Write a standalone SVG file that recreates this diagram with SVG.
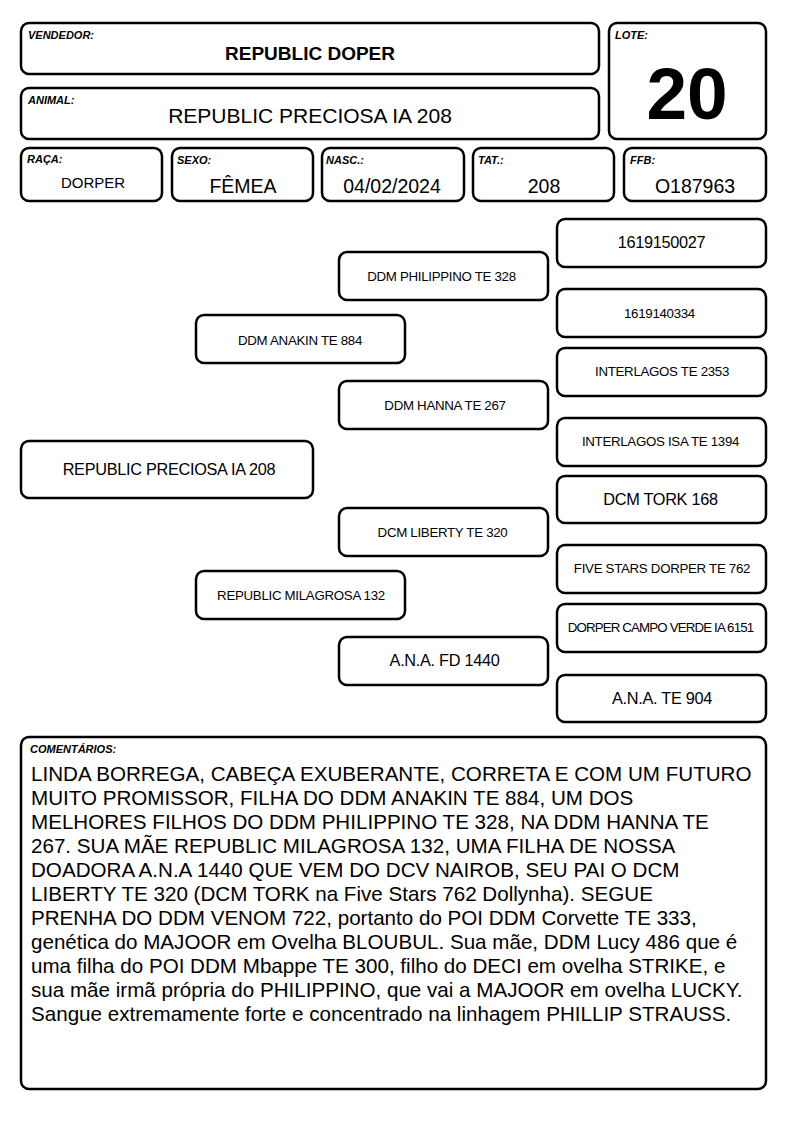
<svg xmlns="http://www.w3.org/2000/svg" width="794" height="1123" viewBox="0 0 794 1123">
<style>
.b{fill:#fff;stroke:#000;stroke-width:2.5}
text{font-family:"Liberation Sans",Arial,sans-serif;fill:#000}
.lbl{font-size:11px;font-weight:bold;font-style:italic}
.c{text-anchor:middle}
.s{font-size:13.3px;letter-spacing:-0.3px}
.m{font-size:16.3px;letter-spacing:-0.3px}
.v{font-size:19.5px}
.cm{font-size:20.6px}
</style>
<rect width="794" height="1123" fill="#fff"/>
<g id="vendedor"><rect class="b" x="21" y="23" width="578" height="51" rx="8"/><text class="lbl" x="28" y="39">VENDEDOR:</text><text class="c" x="310" y="60" font-size="19" font-weight="bold">REPUBLIC DOPER</text></g>
<g id="animal"><rect class="b" x="21" y="88" width="578" height="51" rx="8"/><text class="lbl" x="28" y="104">ANIMAL:</text><text class="c" x="310" y="123" font-size="21">REPUBLIC PRECIOSA IA 208</text></g>
<g id="lote"><rect class="b" x="609" y="23" width="157" height="116" rx="8"/><text class="lbl" x="615" y="39">LOTE:</text><text class="c" x="687" y="119" font-size="73" font-weight="bold">20</text></g>
<g id="raca"><rect class="b" x="21" y="148" width="141" height="53" rx="8"/><text class="lbl" x="27" y="163">RAÇA:</text><text class="c" x="93" y="188" font-size="15">DORPER</text></g>
<g id="sexo"><rect class="b" x="172" y="148" width="141" height="53" rx="8"/><text class="lbl" x="177" y="164">SEXO:</text><text class="c v" x="243" y="193">FÊMEA</text></g>
<g id="nasc"><rect class="b" x="322" y="148" width="142" height="53" rx="8"/><text class="lbl" x="326" y="164">NASC.:</text><text class="c v" x="392" y="193">04/02/2024</text></g>
<g id="tat"><rect class="b" x="473" y="148" width="141" height="53" rx="8"/><text class="lbl" x="478" y="164">TAT.:</text><text class="c v" x="544" y="193">208</text></g>
<g id="ffb"><rect class="b" x="624" y="148" width="142" height="53" rx="8"/><text class="lbl" x="630" y="164">FFB:</text><text class="c v" x="695" y="193">O187963</text></g>
<g id="connectors"></g>
<g id="n-1619150027"><rect class="b" x="557" y="219" width="209" height="48" rx="8"/><text class="c m" x="661.5" y="248">1619150027</text></g>
<g id="n-1619140334"><rect class="b" x="557" y="289" width="209" height="48" rx="8"/><text class="c s" x="659.5" y="318">1619140334</text></g>
<g id="n-interlagos2353"><rect class="b" x="557" y="348" width="209" height="48" rx="8"/><text class="c s" x="662" y="376">INTERLAGOS TE 2353</text></g>
<g id="n-interlagos1394"><rect class="b" x="557" y="418" width="209" height="48" rx="8"/><text class="c s" x="660.5" y="446">INTERLAGOS ISA TE 1394</text></g>
<g id="n-tork"><rect class="b" x="557" y="476" width="209" height="47" rx="8"/><text class="c m" x="660.5" y="505">DCM TORK 168</text></g>
<g id="n-fivestars"><rect class="b" x="557" y="545" width="209" height="48" rx="8"/><text class="c s" x="662" y="573">FIVE STARS DORPER TE 762</text></g>
<g id="n-campoverde"><rect class="b" x="557" y="604" width="209" height="48" rx="8"/><text class="c s" x="660.5" y="632" style="letter-spacing:-0.85px">DORPER CAMPO VERDE IA 6151</text></g>
<g id="n-ana904"><rect class="b" x="557" y="675" width="209" height="47" rx="8"/><text class="c m" x="662" y="704">A.N.A. TE 904</text></g>
<g id="n-philippino"><rect class="b" x="339" y="252" width="209" height="48" rx="8"/><text class="c s" x="441.5" y="281">DDM PHILIPPINO TE 328</text></g>
<g id="n-hanna"><rect class="b" x="339" y="381" width="209" height="48" rx="8"/><text class="c s" x="445" y="410">DDM HANNA TE 267</text></g>
<g id="n-liberty"><rect class="b" x="339" y="508" width="209" height="48" rx="8"/><text class="c s" x="442.5" y="537">DCM LIBERTY TE 320</text></g>
<g id="n-ana1440"><rect class="b" x="339" y="637" width="209" height="48" rx="8"/><text class="c m" x="444.5" y="666">A.N.A. FD 1440</text></g>
<g id="n-anakin"><rect class="b" x="196" y="315" width="209" height="48" rx="8"/><text class="c s" x="300" y="345">DDM ANAKIN TE 884</text></g>
<g id="n-milagrosa"><rect class="b" x="196" y="571" width="209" height="48" rx="8"/><text class="c s" x="301" y="600">REPUBLIC MILAGROSA 132</text></g>
<g id="n-preciosa"><rect class="b" x="21" y="441" width="292" height="57" rx="8"/><text class="c m" x="169" y="475">REPUBLIC PRECIOSA IA 208</text></g>
<g id="comentarios"><rect class="b" x="21" y="737" width="745" height="352" rx="8"/><text class="lbl" x="30" y="753">COMENTÁRIOS:</text>
<text class="cm" x="31"><tspan x="31" y="781">LINDA BORREGA, CABEÇA EXUBERANTE, CORRETA E COM UM FUTURO</tspan><tspan x="31" y="805">MUITO PROMISSOR, FILHA DO DDM ANAKIN TE 884, UM DOS</tspan><tspan x="31" y="829">MELHORES FILHOS DO DDM PHILIPPINO TE 328, NA DDM HANNA TE</tspan><tspan x="31" y="853">267. SUA MÃE REPUBLIC MILAGROSA 132, UMA FILHA DE NOSSA</tspan><tspan x="31" y="877">DOADORA A.N.A 1440 QUE VEM DO DCV NAIROB, SEU PAI O DCM</tspan><tspan x="31" y="901">LIBERTY TE 320 (DCM TORK na Five Stars 762 Dollynha). SEGUE</tspan><tspan x="31" y="925">PRENHA DO DDM VENOM 722, portanto do POI DDM Corvette TE 333,</tspan><tspan x="31" y="949">genética do MAJOOR em Ovelha BLOUBUL. Sua mãe, DDM Lucy 486 que é</tspan><tspan x="31" y="973">uma filha do POI DDM Mbappe TE 300, filho do DECI em ovelha STRIKE, e</tspan><tspan x="31" y="997">sua mãe irmã própria do PHILIPPINO, que vai a MAJOOR em ovelha LUCKY.</tspan><tspan x="31" y="1021">Sangue extremamente forte e concentrado na linhagem PHILLIP STRAUSS.</tspan></text></g>
</svg>
